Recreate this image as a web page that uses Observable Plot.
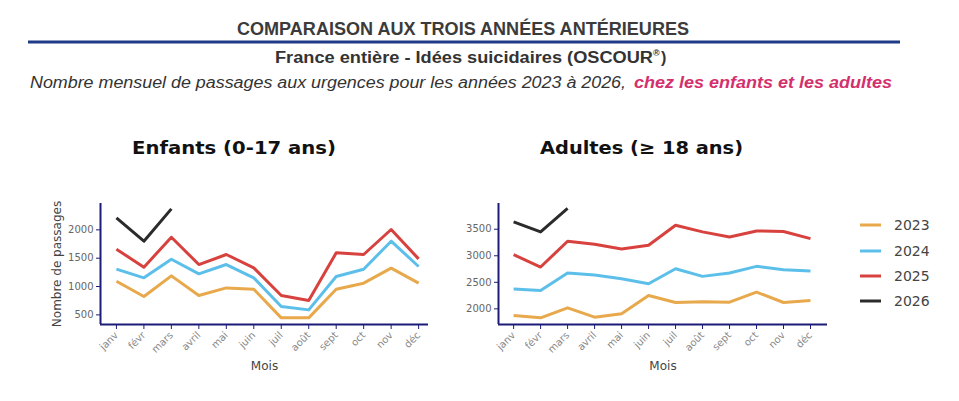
<!DOCTYPE html>
<html><head><meta charset="utf-8">
<script src="https://cdn.jsdelivr.net/npm/d3@7"></script>
<script src="https://cdn.jsdelivr.net/npm/@observablehq/plot@0.6"></script>
<style>
body{margin:0;background:#fff;}
#wrap{position:relative;width:959px;height:401px;overflow:hidden;font-family:"DejaVu Sans",sans-serif;background:#fff;}
.abs{position:absolute;}
</style></head><body><div id="wrap"></div>
<script>
const months = ["janv","févr","mars","avril","mai","juin","juil","août","sept","oct","nov","déc"];
const years = ["2023","2024","2025","2026"];
const colors = ["#e8a84c","#5cbfea","#d8423e","#2b2b2b"];

const enfants2023 = [1094, 824, 1188, 841, 976, 953, 447, 447, 953, 1059, 1324, 1059];
const enfants2024 = [1306, 1153, 1482, 1224, 1388, 1153, 647, 588, 1176, 1306, 1800, 1353];
const enfants2025 = [1659, 1341, 1870, 1388, 1565, 1329, 841, 753, 1594, 1565, 2006, 1488];
const enfants2026 = [2212, 1800, 2370];

const adultes2023 = [1874, 1830, 2019, 1843, 1906, 2252, 2120, 2133, 2126, 2315, 2120, 2158];
const adultes2024 = [2372, 2347, 2675, 2637, 2567, 2473, 2756, 2612, 2675, 2801, 2738, 2712];
const adultes2025 = [3021, 2788, 3273, 3216, 3128, 3198, 3576, 3450, 3355, 3468, 3456, 3324];
const adultes2026 = [3639, 3450, 3891];

const enfantsTicks = [500, 1000, 1500, 2000];
const adultesTicks = [2000, 2500, 3000, 3500];

function rows(seriesList) {
  const out = [];
  seriesList.forEach((s, k) => s.forEach((v, i) => out.push({i, v, year: years[k]})));
  return out;
}

const wrap = document.getElementById("wrap");
const NS = "http://www.w3.org/2000/svg";

const bg = document.createElementNS(NS, "svg");
bg.setAttribute("width", 959); bg.setAttribute("height", 401);
bg.setAttribute("class", "abs"); bg.style.left = "0px"; bg.style.top = "0px";
function txt(parent, s, attrs) {
  const t = document.createElementNS(NS, "text");
  for (const k in attrs) t.setAttribute(k, attrs[k]);
  t.textContent = s; parent.appendChild(t); return t;
}
const narrow = "'Liberation Sans Narrow','Liberation Sans',Arial,sans-serif";
txt(bg, "COMPARAISON AUX TROIS ANNÉES ANTÉRIEURES", {x:237, y:35, textLength:452, lengthAdjust:"spacingAndGlyphs", "font-family":narrow, "font-weight":"bold", "font-size":18, fill:"#3b3b3b"});
const rule = document.createElementNS(NS, "line");
Object.entries({x1:28, x2:900, y1:42, y2:42, stroke:"#1f3a86", "stroke-width":3}).forEach(([k,v])=>rule.setAttribute(k,v));
bg.appendChild(rule);
txt(bg, "France entière - Idées suicidaires (OSCOUR", {x:275, y:63, textLength:378, lengthAdjust:"spacingAndGlyphs", "font-family":narrow, "font-weight":"bold", "font-size":16, fill:"#333"});
txt(bg, "®", {x:653, y:56, "font-family":narrow, "font-weight":"bold", "font-size":9, fill:"#333"});
txt(bg, ")", {x:661, y:63, "font-family":narrow, "font-weight":"bold", "font-size":16, fill:"#333"});
txt(bg, "Nombre mensuel de passages aux urgences pour les années 2023 à 2026,", {x:30, y:88, textLength:596, lengthAdjust:"spacingAndGlyphs", "font-family":narrow, "font-style":"italic", "font-size":16, fill:"#333"});
txt(bg, "chez les enfants et les adultes", {x:634, y:88, textLength:258, lengthAdjust:"spacingAndGlyphs", "font-family":narrow, "font-style":"italic", "font-weight":"bold", "font-size":16, fill:"#d4306c"});

txt(bg, "Enfants (0-17 ans)", {x:132, y:154, textLength:204, lengthAdjust:"spacingAndGlyphs", "font-family":"DejaVu Sans", "font-weight":"bold", "font-size":18, fill:"#111"});
txt(bg, "Adultes (≥ 18 ans)", {x:540, y:154, textLength:203, lengthAdjust:"spacingAndGlyphs", "font-family":"DejaVu Sans", "font-weight":"bold", "font-size":18, fill:"#111"});

const legY = [225, 251, 276, 301];
years.forEach((y, k) => {
  const l = document.createElementNS(NS, "line");
  Object.entries({x1:860, x2:881, y1:legY[k], y2:legY[k], stroke:colors[k], "stroke-width":3}).forEach(([a,b])=>l.setAttribute(a,b));
  bg.appendChild(l);
  txt(bg, y, {x:894, y:legY[k]+5, "font-family":"DejaVu Sans", "font-size":14, fill:"#444"});
});
wrap.appendChild(bg);

function chart({data, ticks, xdom, ydom, ml, mr, w, ylabel}) {
  const navy = "#1c1c78";
  const marks = [
    Plot.ruleY([ydom[0]], {stroke: navy, strokeWidth: 2}),
    Plot.ruleX([xdom[0]], {stroke: navy, strokeWidth: 2}),
    Plot.axisY({ticks, tickFormat: d => String(d), tickSize: 4, tickPadding: 3, label: null, stroke: navy, fill: "#666", fontSize: 10}),
    Plot.axisX({ticks: d3.range(12), tickFormat: i => months[i], tickRotate: -45, tickSize: 5, tickPadding: 4, label: null, stroke: navy, fill: "#888", fontSize: 10}),
    Plot.line(data, {x: "i", y: "v", stroke: "year", z: "year", strokeWidth: 3, strokeLinejoin: "round", strokeLinecap: "butt"}),
    Plot.text(["Mois"], {frameAnchor: "bottom", dy: 45, fontSize: 12, fill: "#444"})
  ];
  if (ylabel) marks.push(Plot.text([ylabel], {frameAnchor: "left", dx: -43, rotate: -90, textAnchor: "middle", fontSize: 12, fill: "#444"}));
  return Plot.plot({
    width: w, height: 200, marginLeft: ml, marginRight: mr, marginTop: 13, marginBottom: 66,
    x: {domain: xdom}, y: {domain: ydom},
    color: {domain: years, range: colors},
    style: {fontFamily: "DejaVu Sans", background: "transparent", overflow: "visible"},
    marks
  });
}

const left = chart({data: rows([enfants2023, enfants2024, enfants2025, enfants2026]), ticks: enfantsTicks,
  xdom: [-0.58, 11.36], ydom: [330, 2465], ml: 100, mr: 22, w: 450, ylabel: "Nombre de passages"});
left.setAttribute("class", "abs"); left.style.left = "0px"; left.style.top = "190px";
wrap.appendChild(left);

const right = chart({data: rows([adultes2023, adultes2024, adultes2025, adultes2026]), ticks: adultesTicks,
  xdom: [-0.56, 11.63], ydom: [1705, 3985], ml: 48, mr: 23, w: 400, ylabel: null});
right.setAttribute("class", "abs"); right.style.left = "450px"; right.style.top = "190px";
wrap.appendChild(right);
</script>
</body></html>
